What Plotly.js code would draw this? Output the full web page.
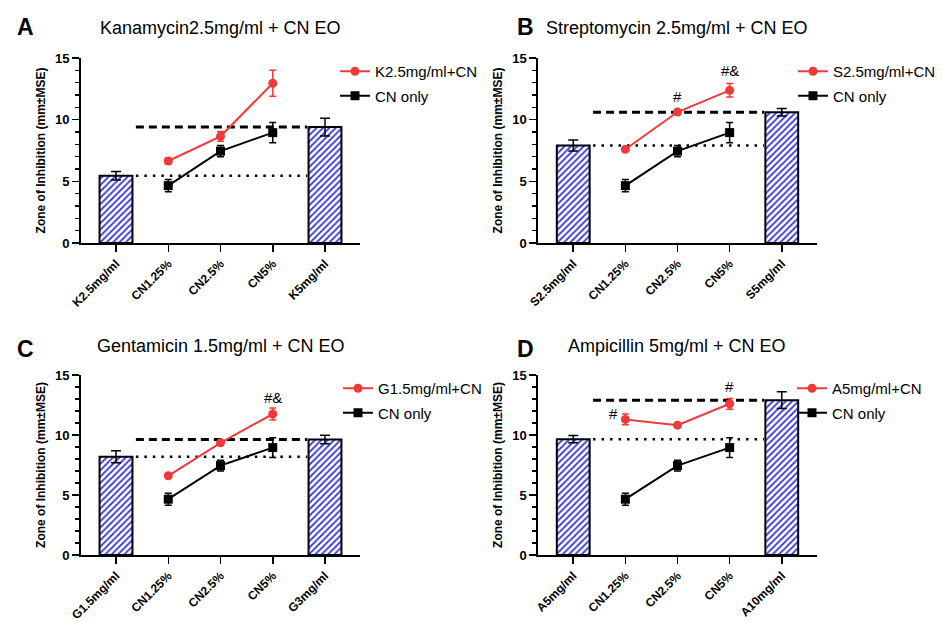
<!DOCTYPE html>
<html><head><meta charset="utf-8">
<script src="https://cdn.plot.ly/plotly-3.0.1.min.js"></script>
<style>html,body{margin:0;padding:0;background:#fff}#chart{width:943px;height:623px}</style>
</head><body><div id="chart"></div>
<script>
// shared CN-only series
const cnCats = ['CN1.25%', 'CN2.5%', 'CN5%'];
const cnOnly = [4.65, 7.45, 8.95];
const cnOnlyErr = [0.5, 0.45, 0.83];

// Panel A
const catsA = ['K2.5mg/ml', 'CN1.25%', 'CN2.5%', 'CN5%', 'K5mg/ml'];
const barA = [5.45, 9.4];
const barErrA = [0.35, 0.72];
const comboA = [6.65, 8.65, 12.95];
const comboErrA = [0.25, 0.4, 1.05];
const nameA = 'K2.5mg/ml+CN';
const titleA = 'Kanamycin2.5mg/ml + CN EO';
const sigTextA = ['', '', '#&'];
const sigYA = [0, 0, 15.4];

// Panel B
const catsB = ['S2.5mg/ml', 'CN1.25%', 'CN2.5%', 'CN5%', 'S5mg/ml'];
const barB = [7.9, 10.6];
const barErrB = [0.45, 0.3];
const comboB = [7.6, 10.62, 12.38];
const comboErrB = [0.1, 0.15, 0.55];
const nameB = 'S2.5mg/ml+CN';
const titleB = 'Streptomycin 2.5mg/ml + CN EO';
const sigTextB = ['', '#', '#&'];
const sigYB = [0, 11.9, 13.97];

// Panel C
const catsC = ['G1.5mg/ml', 'CN1.25%', 'CN2.5%', 'CN5%', 'G3mg/ml'];
const barC = [8.18, 9.62];
const barErrC = [0.5, 0.35];
const comboC = [6.6, 9.35, 11.75];
const comboErrC = [0.1, 0.15, 0.5];
const nameC = 'G1.5mg/ml+CN';
const titleC = 'Gentamicin 1.5mg/ml + CN EO';
const sigTextC = ['', '', '#&'];
const sigYC = [0, 0, 13.1];

// Panel D
const catsD = ['A5mg/ml', 'CN1.25%', 'CN2.5%', 'CN5%', 'A10mg/ml'];
const barD = [9.65, 12.9];
const barErrD = [0.3, 0.7];
const comboD = [11.3, 10.82, 12.6];
const comboErrD = [0.45, 0.1, 0.45];
const nameD = 'A5mg/ml+CN';
const titleD = 'Ampicillin 5mg/ml + CN EO';
const sigTextD = ['#', '', '#'];
const sigYD = [11.8, 0, 14.08];

const letters = ['A', 'B', 'C', 'D'];

const W = 943, H = 623;
const FONT = 'Liberation Sans, Arial, sans-serif';
const RED = '#f03a3a';
const BLUE = '#3b3bd8';

const panels = [
  {cats: catsA, bar: barA, barErr: barErrA, combo: comboA, comboErr: comboErrA, name: nameA, title: titleA, sigT: sigTextA, sigY: sigYA},
  {cats: catsB, bar: barB, barErr: barErrB, combo: comboB, comboErr: comboErrB, name: nameB, title: titleB, sigT: sigTextB, sigY: sigYB},
  {cats: catsC, bar: barC, barErr: barErrC, combo: comboC, comboErr: comboErrC, name: nameC, title: titleC, sigT: sigTextC, sigY: sigYC},
  {cats: catsD, bar: barD, barErr: barErrD, combo: comboD, comboErr: comboErrD, name: nameD, title: titleD, sigT: sigTextD, sigY: sigYD}
];

// pixel geometry of each plot area: [left, right, top(y=15), bottom(y=0)]
const geo = [
  [81, 360, 58, 243],
  [538.3, 816.7, 58, 243],
  [81, 360, 375, 555],
  [538.3, 816.7, 375, 555]
];
const titlePos = [[220, 28], [677, 28], [221, 346], [677, 346]];
const letterPos = [[25, 27], [525, 27], [25, 349], [525, 349]];
const legendPos = [[335, 55], [793, 55], [338, 372], [792, 372]];

const data = [];
const annotations = [];
const shapes = [];
const layout = {
  width: W, height: H,
  margin: {l: 0, r: 0, t: 0, b: 0},
  paper_bgcolor: 'white', plot_bgcolor: 'white',
  font: {family: FONT, color: 'black'},
  showlegend: true,
  bargap: 0
};

panels.forEach((p, i) => {
  const k = i === 0 ? '' : String(i + 1);
  const xa = 'x' + k, ya = 'y' + k;
  const lg = 'legend' + k;
  const g = geo[i];

  layout['xaxis' + k] = {
    domain: [g[0] / W, g[1] / W],
    anchor: ya,
    type: 'category',
    categoryorder: 'array', categoryarray: p.cats,
    range: [-0.67, 4.67],
    showline: true, linecolor: 'black', linewidth: 2,
    ticks: 'outside', ticklen: 7, tickwidth: 1.5, tickcolor: 'black',
    tickangle: -45,
    tickfont: {family: FONT, size: 12, color: 'black', weight: 'bold'},
    showgrid: false, zeroline: false, fixedrange: true
  };
  layout['yaxis' + k] = {
    domain: [1 - g[3] / H, 1 - g[2] / H],
    anchor: xa,
    range: [0, 15],
    tickvals: [0, 5, 10, 15],
    showline: true, linecolor: 'black', linewidth: 2,
    ticks: 'outside', ticklen: 7, tickwidth: 1.5, tickcolor: 'black',
    minor: {dtick: 1, ticks: 'outside', ticklen: 4, tickwidth: 1.2, tickcolor: 'black'},
    tickfont: {family: FONT, size: 13, color: 'black', weight: 'bold'},
    title: {text: 'Zone of Inhibition (mm±MSE)', font: {family: FONT, size: 12, color: 'black', weight: 'bold'}, standoff: 7},
    showgrid: false, zeroline: false, fixedrange: true
  };
  layout[lg] = {
    x: legendPos[i][0] / W, y: 1 - legendPos[i][1] / H,
    xanchor: 'left', yanchor: 'top',
    bgcolor: 'rgba(0,0,0,0)',
    font: {family: FONT, size: 15, color: 'black'},
    tracegroupgap: 2,
    traceorder: 'grouped'
  };

  // bars
  data.push({
    type: 'bar', xaxis: xa, yaxis: ya,
    x: [p.cats[0], p.cats[4]], y: p.bar,
    width: 0.63,
    marker: {color: 'white', line: {color: 'black', width: 2},
      pattern: {shape: '/', fgcolor: BLUE, bgcolor: 'white', size: 4.5, solidity: 0.4}},
    error_y: {type: 'data', array: p.barErr, visible: true, color: 'black', thickness: 1.5, width: 5},
    showlegend: false, hoverinfo: 'skip'
  });
  // combination line
  data.push({
    type: 'scatter', mode: 'lines+markers', xaxis: xa, yaxis: ya,
    x: cnCats, y: p.combo, name: p.name, legend: lg, legendgroup: 'g1' + i,
    line: {color: RED, width: 2},
    marker: {color: RED, size: 9, symbol: 'circle'},
    error_y: {type: 'data', array: p.comboErr, visible: true, color: RED, thickness: 1.5, width: 3.5},
    cliponaxis: false
  });
  // CN only line
  data.push({
    type: 'scatter', mode: 'lines+markers', xaxis: xa, yaxis: ya,
    x: cnCats, y: cnOnly, name: 'CN only', legend: lg, legendgroup: 'g2' + i,
    line: {color: 'black', width: 2},
    marker: {color: 'black', size: 9, symbol: 'square'},
    error_y: {type: 'data', array: cnOnlyErr, visible: true, color: 'black', thickness: 1.5, width: 3.5},
    cliponaxis: false
  });

  // reference lines at bar levels
  shapes.push({type: 'line', xref: xa, yref: ya, x0: 0.38, x1: 3.66, y0: p.bar[1], y1: p.bar[1],
    line: {color: 'black', width: 3, dash: '8px,5px'}, layer: 'below'});
  shapes.push({type: 'line', xref: xa, yref: ya, x0: 0.38, x1: 3.66, y0: p.bar[0], y1: p.bar[0],
    line: {color: 'black', width: 2.5, dash: '2.5px,6px'}, layer: 'below'});

  // significance labels
  p.sigT.forEach((t, j) => {
    if (!t) return;
    const shiftLeft = (i === 3 && j === 0);
    annotations.push({xref: xa, yref: ya, x: cnCats[j], y: p.sigY[j], text: t, showarrow: false,
      xshift: shiftLeft ? -12 : 0,
      font: {family: FONT, size: 15, color: 'black'}, xanchor: 'center', yanchor: 'middle'});
  });

  // panel title & letter
  annotations.push({xref: 'paper', yref: 'paper', x: titlePos[i][0] / W, y: 1 - titlePos[i][1] / H,
    text: p.title, showarrow: false, xanchor: 'center', yanchor: 'middle',
    font: {family: FONT, size: 18, color: 'black'}});
  annotations.push({xref: 'paper', yref: 'paper', x: letterPos[i][0] / W, y: 1 - letterPos[i][1] / H,
    text: '<b>' + letters[i] + '</b>', showarrow: false, xanchor: 'center', yanchor: 'middle',
    font: {family: FONT, size: 23, color: 'black'}});
});

layout.annotations = annotations;
layout.shapes = shapes;

Plotly.newPlot('chart', data, layout, {displayModeBar: false, staticPlot: true});
</script>
</body></html>
